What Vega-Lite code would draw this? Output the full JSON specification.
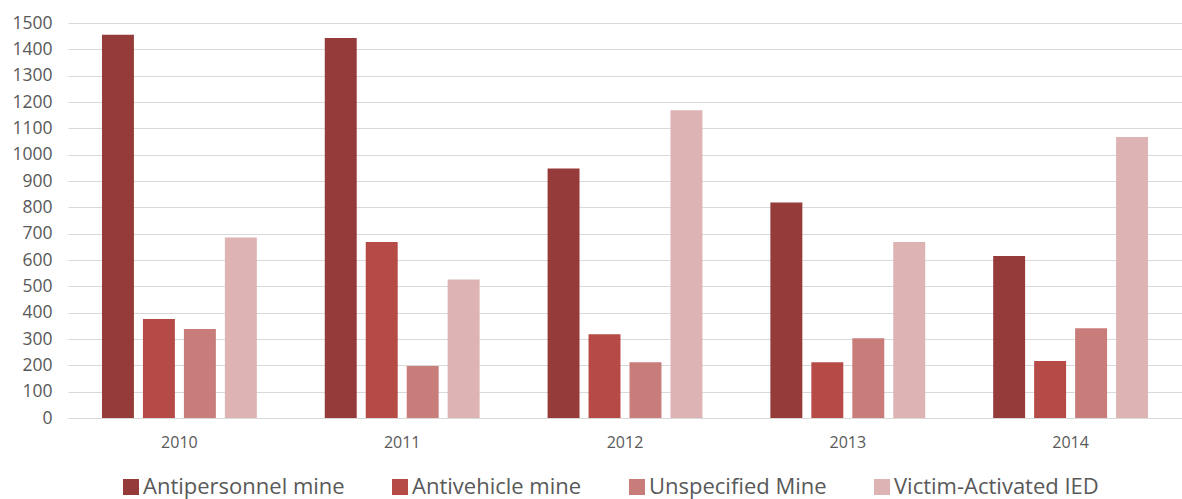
{
  "$schema": "https://vega.github.io/schema/vega-lite/v6.json",
  "width": 1114,
  "height": 395,
  "autosize": {"type": "none"},
  "padding": {"left": 68, "top": 23, "right": 0, "bottom": 81},
  "background": "white",
  "config": {
    "view": {"stroke": null},
    "font": "Open Sans"
  },
  "data": {
    "values": [
      {"year": "2010", "type": "Antipersonnel mine", "value": 1455},
      {"year": "2010", "type": "Antivehicle mine", "value": 376},
      {"year": "2010", "type": "Unspecified Mine", "value": 338},
      {"year": "2010", "type": "Victim-Activated IED", "value": 685},
      {"year": "2011", "type": "Antipersonnel mine", "value": 1443},
      {"year": "2011", "type": "Antivehicle mine", "value": 668},
      {"year": "2011", "type": "Unspecified Mine", "value": 197},
      {"year": "2011", "type": "Victim-Activated IED", "value": 526},
      {"year": "2012", "type": "Antipersonnel mine", "value": 947},
      {"year": "2012", "type": "Antivehicle mine", "value": 318},
      {"year": "2012", "type": "Unspecified Mine", "value": 212},
      {"year": "2012", "type": "Victim-Activated IED", "value": 1169},
      {"year": "2013", "type": "Antipersonnel mine", "value": 818},
      {"year": "2013", "type": "Antivehicle mine", "value": 212},
      {"year": "2013", "type": "Unspecified Mine", "value": 303},
      {"year": "2013", "type": "Victim-Activated IED", "value": 668},
      {"year": "2014", "type": "Antipersonnel mine", "value": 615},
      {"year": "2014", "type": "Antivehicle mine", "value": 216},
      {"year": "2014", "type": "Unspecified Mine", "value": 341},
      {"year": "2014", "type": "Victim-Activated IED", "value": 1067}
    ]
  },
  "mark": {"type": "bar"},
  "encoding": {
    "x": {
      "field": "year",
      "type": "nominal",
      "scale": {"paddingInner": 0.305, "paddingOuter": 0.1525},
      "axis": {
        "title": null,
        "labelAngle": 0,
        "labelFontSize": 16,
        "labelColor": "#595959",
        "labelPadding": 16,
        "ticks": false,
        "domain": false
      }
    },
    "xOffset": {
      "field": "type",
      "type": "nominal",
      "sort": ["Antipersonnel mine", "Antivehicle mine", "Unspecified Mine", "Victim-Activated IED"],
      "scale": {"paddingInner": 0.22, "paddingOuter": 0}
    },
    "y": {
      "field": "value",
      "type": "quantitative",
      "scale": {"domain": [0, 1500], "nice": false},
      "axis": {
        "title": null,
        "format": "d",
        "values": [0, 100, 200, 300, 400, 500, 600, 700, 800, 900, 1000, 1100, 1200, 1300, 1400, 1500],
        "labelFontSize": 17.5,
        "labelColor": "#595959",
        "labelPadding": 16,
        "ticks": false,
        "domain": false,
        "grid": true,
        "gridColor": "#D9D9D9",
        "gridWidth": 1.2,
        "zindex": 0
      }
    },
    "color": {
      "field": "type",
      "type": "nominal",
      "scale": {
        "domain": ["Antipersonnel mine", "Antivehicle mine", "Unspecified Mine", "Victim-Activated IED"],
        "range": ["#953B39", "#B64A47", "#C97D7B", "#DDB3B3"]
      },
      "legend": {
        "title": null,
        "orient": "none",
        "direction": "horizontal",
        "legendX": 52,
        "legendY": 453,
        "padding": 0,
        "symbolType": "square",
        "symbolSize": 256,
        "symbolStrokeWidth": 0,
        "labelFontSize": 22,
        "labelColor": "#595959",
        "labelOffset": 1,
        "columnPadding": 44,
        "labelLimit": 400
      }
    }
  }
}
